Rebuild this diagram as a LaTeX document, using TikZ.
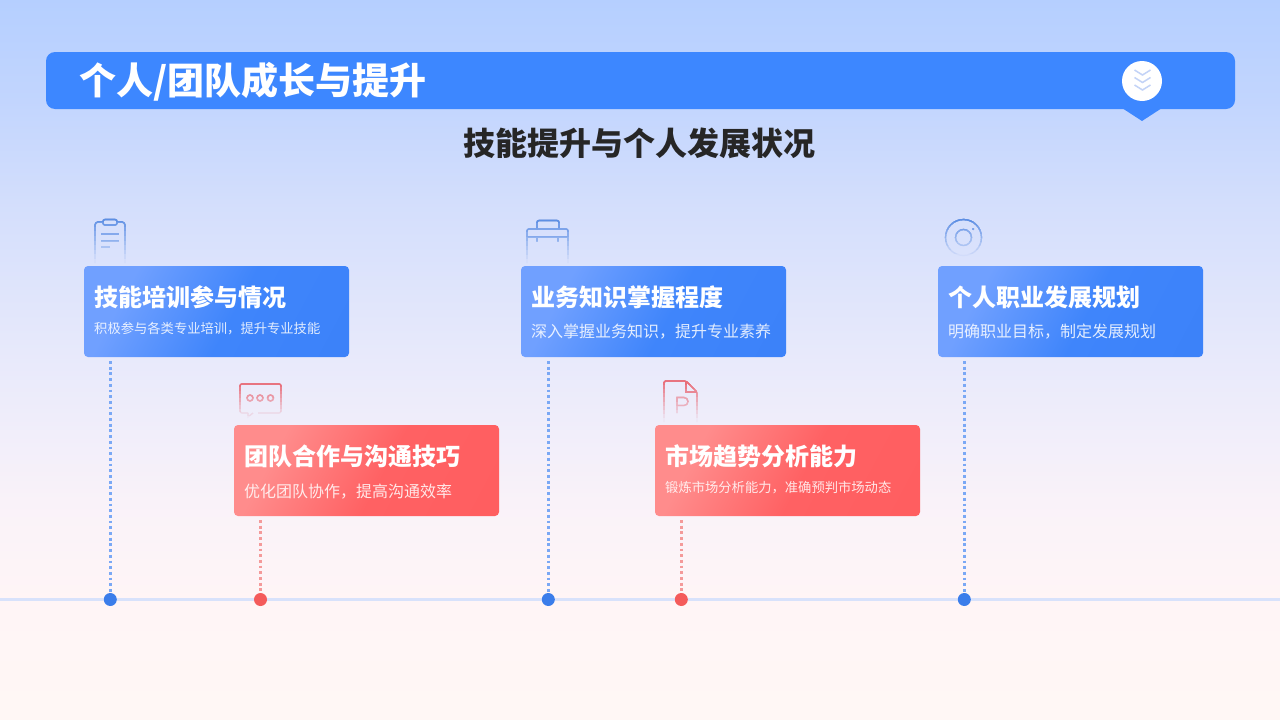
\documentclass[tikz,border=0pt]{standalone}
\usepackage{fontspec}
\setmainfont{Noto Sans CJK SC}
\usetikzlibrary{calc}
\definecolor{barblue}{HTML}{3D87FF}
\definecolor{chev}{HTML}{C3D3F7}
\definecolor{axisline}{HTML}{D8E2FB}
\definecolor{dotblue}{HTML}{3B7DEA}
\definecolor{dotred}{HTML}{F45B5B}
\definecolor{linkblue}{HTML}{7AA8F5}
\definecolor{linkred}{HTML}{F49A9A}
\definecolor{iconblue}{HTML}{4F86E2}
\definecolor{iconred}{HTML}{E8606C}
\definecolor{iconbgblue}{HTML}{D9E1FB}
\definecolor{iconbgred}{HTML}{EDEBFA}
\definecolor{headink}{HTML}{262626}
\definecolor{bga}{HTML}{FFF7F5}
\definecolor{bgb}{HTML}{FFF5F6}
\definecolor{bgc}{HTML}{F9F2F9}
\definecolor{bgd}{HTML}{E7E9FB}
\definecolor{bge}{HTML}{D3DEFC}
\definecolor{bgf}{HTML}{C2D5FE}
\definecolor{bgg}{HTML}{B5CFFF}
\definecolor{cba}{HTML}{70A0FF}
\definecolor{cbb}{HTML}{3F85FB}
\definecolor{cbc}{HTML}{3A80F8}
\definecolor{cra}{HTML}{FF8C8C}
\definecolor{crb}{HTML}{FF6163}
\definecolor{crc}{HTML}{FF5C5E}
\pgfdeclarehorizontalshading{cardblue}{100bp}{
  color(0bp)=(cba);
  color(28bp)=(cba);
  color(54bp)=(cbb);
  color(100bp)=(cbc)}
\pgfdeclarehorizontalshading{cardred}{100bp}{
  color(0bp)=(cra);
  color(28bp)=(cra);
  color(54bp)=(crb);
  color(100bp)=(crc)}
% paints #7 from the faintest, whole, to the strongest, clipped to ever shorter tops:
% top #1, bottom #2, x range #3-#4, ink #5, background #6
\newcommand{\fadeicon}[7]{%
  \foreach \k in {9,8,...,0}{%
    \pgfmathsetmacro{\yb}{#1+(#2-#1)*(\k+1)/10}%
    \pgfmathtruncatemacro{\pct}{90-85*\k/9}%
    \begin{scope}
      \clip (#3,#1) rectangle (#4,\yb);
      \begin{scope}[color=#5!\pct!#6,line width=1.2pt]
        #7
      \end{scope}
    \end{scope}
  }%
}
\newcommand{\bgband}[4]{%
  \path[top color=#3,bottom color=#4,draw=none] (0,#1) rectangle (1280,#2);%
}
\tikzset{
  x=1pt,y=-1pt,
  titlebar/.style={inner sep=0pt,outer sep=0pt,anchor=north west,minimum width=1189pt,minimum height=57pt,fill=barblue,rounded corners=9pt},
  card/.style={inner sep=0pt,outer sep=0pt,anchor=north west,minimum width=265pt,minimum height=91pt,rounded corners=4pt},
  bluecard/.style={card,shading=cardblue,shading angle=-28},
  redcard/.style={card,shading=cardred,shading angle=-28},
  cardtitle/.style={inner sep=0pt,anchor=west,text=white,font=\fontsize{24}{28}\selectfont\bfseries},
  cardsub/.style={inner sep=0pt,anchor=west,text=white,text opacity=.85,font=\fontsize{16}{20}\selectfont},
  cardsubsmall/.style={cardsub,font=\fontsize{13.3}{16}\selectfont},
  bluedot/.style={circle,fill=dotblue,inner sep=0pt,outer sep=0pt,minimum size=13pt},
  reddot/.style={circle,fill=dotred,inner sep=0pt,outer sep=0pt,minimum size=13pt},
  link/.style={line width=2.8pt,dash pattern=on 2.8pt off 2.9pt,shorten <=4pt},
}
\begin{document}
\begin{tikzpicture}
\useasboundingbox (0,0) rectangle (1280,720);
\bgband{-1}{101}{bgg}{bgf}
\bgband{100}{201}{bgf}{bge}
\bgband{200}{351}{bge}{bgd}
\bgband{350}{501}{bgd}{bgc}
\bgband{500}{601}{bgc}{bgb}
\bgband{600}{721}{bgb}{bga}

% header
\fill[barblue] (1122,108) -- (1142,121) -- (1162,108) -- cycle;
\node[titlebar] (bar) at (46,52) {};
\node[inner sep=0pt,anchor=west,text=white,font=\fontsize{37}{41}\selectfont\bfseries] (title) at (79.5,82) {个人/团队成长与提升};
\node[circle,fill=white,inner sep=0pt,minimum size=40pt] (badge) at (1142,81) {};
\foreach \yy in {70,77.5,85}{
  \draw[chev,line width=1.5pt] (1134.5,\yy) -- (1142.5,\yy+5) -- (1150.5,\yy);
}
\node[inner sep=0pt,text=headink,font=\fontsize{32}{36}\selectfont\bfseries] (head) at (639.5,143) {技能提升与个人发展状况};

% axis
\coordinate (axl) at (0,599.5);
\coordinate (axr) at (1280,599.5);
\draw[axisline,line width=3.4pt] (axl) -- (axr);

% cards
\node[bluecard] (c1) at (84,266) {};
\node[redcard] (c2) at (234,425) {};
\node[bluecard] (c3) at (521,266) {};
\node[redcard] (c4) at (655,425) {};
\node[bluecard] (c5) at (938,266) {};

\node[cardtitle] (t1) at (94,297) {技能培训参与情况};
\node[cardsubsmall] (s1) at (94,329) {积极参与各类专业培训，提升专业技能};
\node[cardtitle] (t2) at (244,456) {团队合作与沟通技巧};
\node[cardsub] (s2) at (244,492) {优化团队协作，提高沟通效率};
\node[cardtitle] (t3) at (531,297) {业务知识掌握程度};
\node[cardsub] (s3) at (531,332) {深入掌握业务知识，提升专业素养};
\node[cardtitle] (t4) at (665,456) {市场趋势分析能力};
\node[cardsubsmall] (s4) at (665,488) {锻炼市场分析能力，准确预判市场动态};
\node[cardtitle] (t5) at (948,297) {个人职业发展规划};
\node[cardsub] (s5) at (948,332) {明确职业目标，制定发展规划};

% dots and links
\node[bluedot] (d1) at (110.3,599.5) {};
\node[reddot] (d2) at (260.5,599.5) {};
\node[bluedot] (d3) at (548.3,599.5) {};
\node[reddot] (d4) at (681.3,599.5) {};
\node[bluedot] (d5) at (964.3,599.5) {};
\draw[link,linkblue] (d1 |- c1.south) -- (d1);
\draw[link,linkred] (d2 |- c2.south) -- (d2);
\draw[link,linkblue] (d3 |- c3.south) -- (d3);
\draw[link,linkred] (d4 |- c4.south) -- (d4);
\draw[link,linkblue] (d5 |- c5.south) -- (d5);

% clipboard icon
\fadeicon{217}{263}{90}{130}{iconblue}{iconbgblue}{
  \draw[rounded corners=3pt] (103,222) -- (95,222) -- (95,263) (125,263) -- (125,222) -- (117,222);
  \draw[rounded corners=2pt] (103,219.5) rectangle (117,225);
  \draw (101,234) -- (119,234) (101,241) -- (119,241) (101,247) -- (110,247);
}
% briefcase icon
\fadeicon{218}{263}{522}{573}{iconblue}{iconbgblue}{
  \draw[rounded corners=2pt] (527,263) -- (527,229) -- (568,229) -- (568,263);
  \draw[rounded corners=2pt] (537,229) -- (537,220.5) -- (559,220.5) -- (559,229);
  \draw (527,237) -- (568,237) (537,237) -- (537,242) (558,237) -- (558,242);
}
% chat icon
\fadeicon{383}{419}{236}{286}{iconred}{iconbgred}{
  \draw[rounded corners=2pt] (248,413) -- (240,413) -- (240,384) -- (281,384) -- (281,413) -- (258,413);
  \draw (248,413) -- (248,417) -- (253,413);
  \draw (250,398) circle (3);
  \draw (260,398) circle (3);
  \draw (270.5,398) circle (3);
}
% file icon
\fadeicon{380}{422}{660}{702}{iconred}{iconbgred}{
  \draw[rounded corners=1.5pt] (664,422) -- (664,381) -- (686,381) -- (697,392) -- (697,422);
  \draw (686,381) -- (686,392) -- (697,392);
  \draw (677,413) -- (677,397.5) -- (684,397.5) arc[start angle=-90,end angle=90,radius=4] -- (677,405.5);
}
% target icon
\fadeicon{218}{257}{942}{986}{iconblue}{iconbgblue}{
  \draw (963.5,237.5) circle (18);
  \draw (963.5,237.5) circle (8);
  \fill (973,229) circle (1);
}
\end{tikzpicture}
\end{document}
